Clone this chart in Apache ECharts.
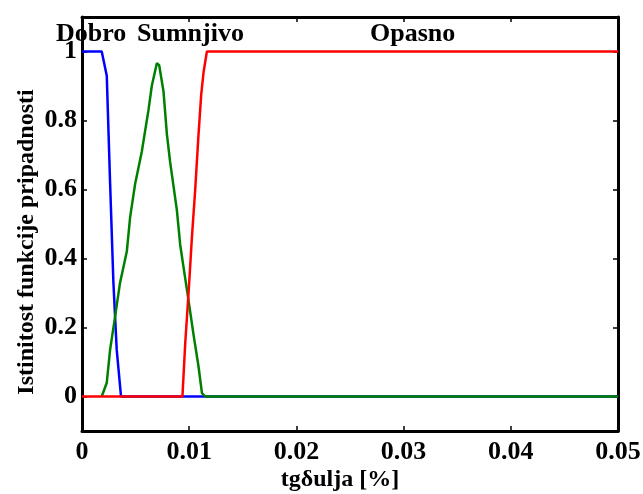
<!DOCTYPE html>
<html>
<head>
<meta charset="utf-8">
<script src="https://cdn.jsdelivr.net/npm/echarts@6/dist/echarts.min.js"></script>
<style>html,body{margin:0;padding:0;background:#fff}#c{width:643px;height:494px}</style>
</head>
<body>
<div id="c"></div>
<script>
// Dobro (blue)
var dobroX = [0, 0.00184, 0.00231, 0.00262, 0.00293, 0.00324, 0.00364, 0.05];
var dobroY = [1, 1, 0.93, 0.62, 0.33, 0.135, 0, 0];
// Sumnjivo (green)
var sumnjivoX = [0.00184, 0.00231, 0.00262, 0.00308, 0.00355, 0.00418, 0.00449, 0.00495, 0.00558, 0.0062, 0.00651, 0.00698, 0.0072, 0.0076, 0.00792, 0.00822, 0.00885, 0.00916, 0.00947, 0.00993, 0.0104, 0.01087, 0.01119, 0.0115, 0.05];
var sumnjivoY = [0, 0.04, 0.135, 0.23, 0.33, 0.42, 0.52, 0.615, 0.71, 0.83, 0.90, 0.966, 0.96, 0.885, 0.76, 0.68, 0.54, 0.44, 0.375, 0.28, 0.18, 0.087, 0.01, 0, 0];
// Opasno (red)
var opasnoX = [0, 0.00937, 0.00963, 0.00994, 0.01025, 0.01056, 0.01087, 0.01112, 0.01134, 0.01165, 0.05];
var opasnoY = [0, 0, 0.155, 0.30, 0.46, 0.60, 0.76, 0.875, 0.94, 1, 1];

var yTicks = [0, 0.2, 0.4, 0.6, 0.8, 1];
var xTicks = [0, 0.01, 0.02, 0.03, 0.04, 0.05];
var regionLabels = ['Dobro', 'Sumnjivo', 'Opasno'];

function pairs(xs, ys){ return xs.map(function(x,i){ return [x, ys[i]]; }); }

var FONT = '"Liberation Serif","Times New Roman",serif';
var chart = echarts.init(document.getElementById('c'), null, {renderer:'canvas'});
var tickStyle = {fontFamily: FONT, fontWeight: 'bold', fontSize: 26, color: '#000'};
var nameStyle = {fontFamily: FONT, fontWeight: 'bold', fontSize: 24, color: '#000'};
chart.setOption({
  animation: false,
  backgroundColor: '#fff',
  grid: {left: 82, right: 25, top: 17, bottom: 63, containLabel: false, outerBoundsMode: 'none'},
  xAxis: [{
    type: 'value', min: 0, max: 0.05, interval: 0.01, position: 'bottom',
    name: 'tgδulja [%]', nameLocation: 'middle', nameGap: 37, nameMoveOverlap: false,
    nameTextStyle: Object.assign({padding: [0, 20, 0, 0]}, nameStyle),
    axisLine: {show: true, onZero: false, lineStyle: {color: '#000', width: 3}},
    axisTick: {show: true, inside: true, length: 5, lineStyle: {color: '#000', width: 1.5}},
    axisLabel: Object.assign({margin: 8, formatter: function(v){ return String(+v.toFixed(2)); }}, tickStyle),
    splitLine: {show: false}
  }, {
    type: 'value', min: 0, max: 0.05, interval: 0.01, position: 'top',
    axisLine: {show: true, onZero: false, lineStyle: {color: '#000', width: 3}},
    axisTick: {show: true, inside: true, length: 5, lineStyle: {color: '#000', width: 1.5}},
    axisLabel: {show: false}, splitLine: {show: false}
  }],
  yAxis: [{
    type: 'value', min: -0.1, max: 1.1, position: 'left',
    name: 'Istinitost funkcije pripadnosti', nameLocation: 'middle', nameGap: 43, nameRotate: 90, nameMoveOverlap: false,
    nameTextStyle: Object.assign({padding: [0, 36, 0, 0]}, nameStyle),
    axisLine: {show: true, onZero: false, lineStyle: {color: '#000', width: 3}},
    axisTick: {show: true, inside: true, length: 5, customValues: yTicks, lineStyle: {color: '#000', width: 1.5}},
    axisLabel: Object.assign({margin: 5, customValues: yTicks, formatter: function(v){ return String(+v.toFixed(1)); }}, tickStyle),
    splitLine: {show: false}
  }, {
    type: 'value', min: -0.1, max: 1.1, position: 'right',
    axisLine: {show: true, onZero: false, lineStyle: {color: '#000', width: 3}},
    axisTick: {show: true, inside: true, length: 5, customValues: yTicks, lineStyle: {color: '#000', width: 1.5}},
    axisLabel: {show: false}, splitLine: {show: false}
  }],
  series: [
    {name: regionLabels[0], type: 'line', data: pairs(dobroX, dobroY), symbol: 'none', lineStyle: {color: '#0000ff', width: 2.5}, z: 2},
    {name: regionLabels[1], type: 'line', data: pairs(sumnjivoX, sumnjivoY), symbol: 'none', lineStyle: {color: '#008000', width: 2.5}, z: 3},
    {name: regionLabels[2], type: 'line', data: pairs(opasnoX, opasnoY), symbol: 'none', lineStyle: {color: '#ff0000', width: 2.5}, z: 4}
  ],
  graphic: [
    {type: 'text', left: 56, top: 21, z: 100, style: {text: regionLabels[0], font: 'bold 26px ' + FONT, fill: '#000'}},
    {type: 'text', left: 137, top: 21, z: 100, style: {text: regionLabels[1], font: 'bold 26px ' + FONT, fill: '#000'}},
    {type: 'text', left: 370, top: 21, z: 100, style: {text: regionLabels[2], font: 'bold 26px ' + FONT, fill: '#000'}}
  ]
});
</script>
</body>
</html>
